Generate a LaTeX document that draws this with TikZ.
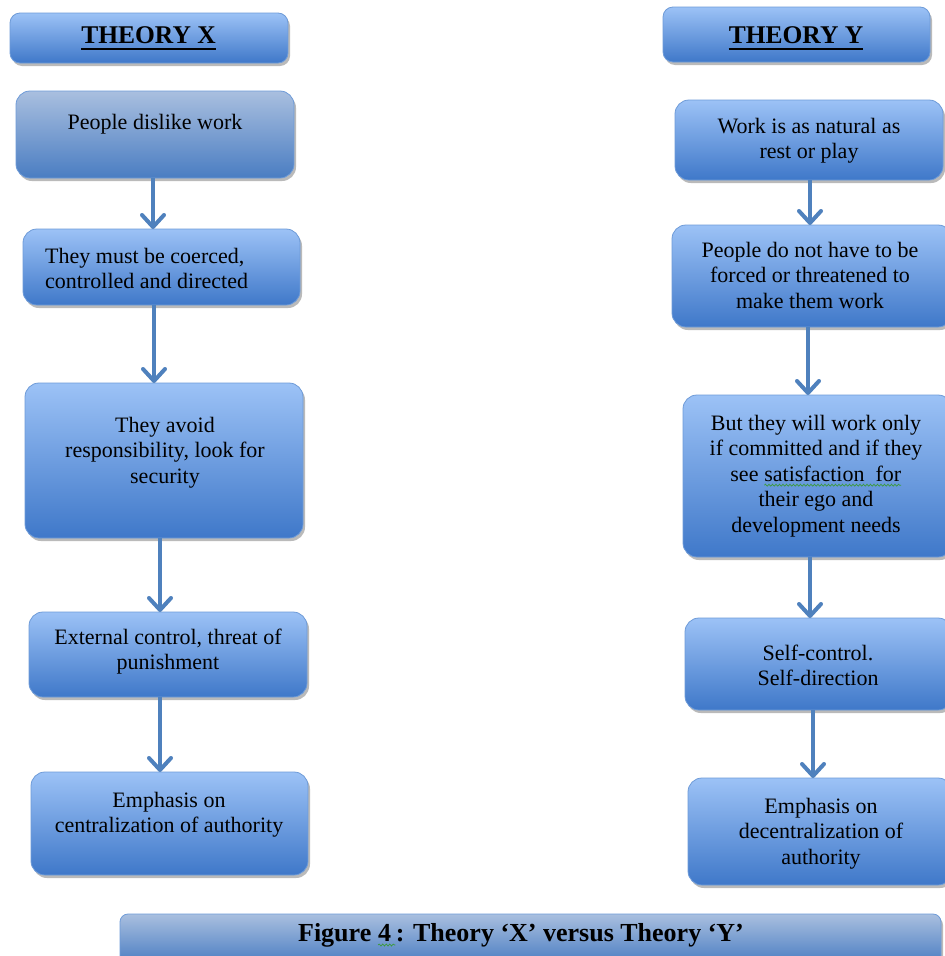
\documentclass[tikz,border=0pt]{standalone}
\usepackage{fontspec}
\setmainfont{Liberation Serif}
\usetikzlibrary{arrows.meta,shadows,decorations.pathmorphing}
\definecolor{btop}{HTML}{9CC2F6}
\definecolor{bbot}{HTML}{3F78C9}
\definecolor{gtop}{HTML}{A9BFDF}
\definecolor{gbot}{HTML}{4A7DC2}
\definecolor{bedge}{HTML}{6E9BD8}
\definecolor{arrc}{HTML}{4F81BD}
\definecolor{wavegreen}{HTML}{3C9A3C}
\newcommand\gwave[1]{\tikz[baseline=(gw.base)]{\node[inner sep=0pt,outer sep=0pt] (gw) {#1};
  \draw[wavegreen, line width=0.7pt, decorate, decoration={snake, amplitude=1pt, segment length=3.5pt}]
  ([yshift=-4pt]gw.base west) -- ([yshift=-4pt]gw.base east);}}
\tikzset{
 box/.style={draw=bedge, line width=0.8pt, rounded corners=14pt, top color=btop, bottom color=bbot,
   inner sep=0pt, outer sep=0pt,
   drop shadow={shadow xshift=2pt, shadow yshift=-3pt, opacity=0.45, fill=black!60}},
 graybox/.style={box, top color=gtop, bottom color=gbot},
 txt/.style={inner sep=0pt, align=center, font=\fontsize{22}{25.5}\selectfont},
 ttl/.style={inner sep=0pt, font=\fontsize{25.5}{28}\selectfont\bfseries},
 capf/.style={inner sep=0pt, font=\fontsize{26}{28}\selectfont\bfseries},
 arr/.style={draw=arrc, line width=4pt, -{Straight Barb[length=12pt,width=22pt,round]}},
}
\begin{document}
\begin{tikzpicture}[x=1pt,y=-1pt]
\useasboundingbox (0,0) rectangle (945,956);
\clip (0,0) rectangle (945,956);
\fill[white] (0,0) rectangle (945,956);

% titles
\node[box, rounded corners=10pt, minimum width=278pt, minimum height=50pt] (tX) at (149,38) {};
\node[ttl, anchor=base] (tXt) at (148.5,43) {THEORY X};
\draw[line width=2.6pt] ([yshift=-6pt]tXt.base west) -- ([yshift=-6pt]tXt.base east);
\node[box, rounded corners=10pt, minimum width=267pt, minimum height=55pt] (tY) at (796.5,34.5) {};
\node[ttl, anchor=base] (tYt) at (796,43) {THEORY Y};
\draw[line width=2.6pt] ([yshift=-6pt]tYt.base west) -- ([yshift=-6pt]tYt.base east);

% left column
\node[graybox, minimum width=278pt, minimum height=87pt] (a1) at (155,134.5) {};
\node[txt, anchor=north] (a1t) at (155,129-17.85) {\strut People dislike work};
\node[box, minimum width=277pt, minimum height=76pt] (a2) at (161.5,267) {};
\node[txt, align=left, anchor=north west] (a2t) at (45,263-17.85) {\strut They must be coerced,\\controlled and directed};
\node[box, minimum width=278pt, minimum height=155pt] (a3) at (164,460.5) {};
\node[txt, anchor=north] (a3t) at (165,432-17.85) {\strut They avoid\\responsibility, look for\\security};
\node[box, minimum width=278pt, minimum height=85pt] (a4) at (168,654.5) {};
\node[txt, anchor=north] (a4t) at (168,644-17.85) {\strut External control, threat of\\punishment};
\node[box, minimum width=277pt, minimum height=103pt] (a5) at (169.5,823.5) {};
\node[txt, anchor=north] (a5t) at (169,807-17.85) {\strut Emphasis on\\centralization of authority};

% right column
\node[box, minimum width=268pt, minimum height=80pt] (b1) at (809,140) {};
\node[txt, anchor=north] (b1t) at (809,133-17.85) {\strut Work is as natural as\\rest or play};
\node[box, minimum width=280pt, minimum height=102pt] (b2) at (812,276) {};
\node[txt, anchor=north] (b2t) at (810,257-17.85) {\strut People do not have to be\\forced or threatened to\\make them work};
\node[box, minimum width=269pt, minimum height=162pt] (b3) at (817.5,476) {};
\node[txt, anchor=north] (b3t) at (816,430-17.85) {\strut But they will work only\\if committed and if they\\see \gwave{satisfaction\ \ for}\\their ego and\\development needs};
\node[box, minimum width=267pt, minimum height=92pt] (b4) at (818.5,664) {};
\node[txt, anchor=north] (b4t) at (818,660-17.85) {\strut Self-control.\\Self-direction};
\node[box, minimum width=264pt, minimum height=107pt] (b5) at (820,831.5) {};
\node[txt, anchor=north] (b5t) at (821,813-17.85) {\strut Emphasis on\\decentralization of\\authority};

% caption
\node[graybox, rounded corners=8pt, minimum width=821pt, minimum height=50pt] (cap) at (530.5,939) {};
\node[capf, anchor=base] (capt) at (521,941) {Figure \gwave{4\,}: Theory ‘X’ versus Theory ‘Y’};

% arrows
\draw[arr] ([xshift=-2pt]a1.south) -- ([xshift=-2pt]a1.south |- a2.north);
\draw[arr] ([xshift=-7.5pt]a2.south) -- ([xshift=-7.5pt]a2.south |- a3.north);
\draw[arr] ([xshift=-4pt]a3.south) -- ([xshift=-4pt]a3.south |- a4.north);
\draw[arr] ([xshift=-8pt]a4.south) -- ([xshift=-8pt]a4.south |- a5.north);
\draw[arr] ([xshift=1pt]b1.south) -- ([xshift=1pt]b1.south |- b2.north);
\draw[arr] ([xshift=-4pt]b2.south) -- ([xshift=-4pt]b2.south |- b3.north);
\draw[arr] ([xshift=-7.5pt]b3.south) -- ([xshift=-7.5pt]b3.south |- b4.north);
\draw[arr] ([xshift=-5.5pt]b4.south) -- ([xshift=-5.5pt]b4.south |- b5.north);
\end{tikzpicture}
\end{document}
